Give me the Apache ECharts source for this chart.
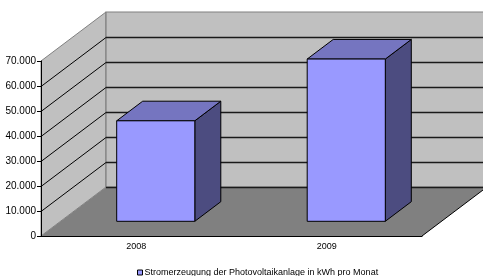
<!DOCTYPE html>
<html>
<head>
<meta charset="utf-8">
<script src="https://cdn.jsdelivr.net/npm/echarts@6/dist/echarts.min.js"></script>
<style>
html, body {margin: 0; padding: 0; background: #fff;}
#chart {width: 483px; height: 276px;}
</style>
</head>
<body>
<div id="chart"></div>
<script>
const years = ['2008', '2009'];
const output = [40200, 64900];
const seriesName = 'Stromerzeugung der Photovoltaikanlage in kWh pro Monat';
const yMax = 70000;
const yStep = 10000;

// oblique depth of the 3d box, and where the bars sit inside it
const depth = [65, -49];
const barDepth = [0.3, 0.7];
const barWidth = 0.41;

const font = '"Liberation Sans", Arial, sans-serif';
const de = v => String(v).replace(/\B(?=(\d{3})+(?!\d))/g, '.');

function shift(p, f)
{
	return [p[0] + depth[0] * f, p[1] + depth[1] * f];
}

function line(a, b, stroke, lineWidth = 1)
{
	return {type: 'line', shape: {x1: a[0], y1: a[1], x2: b[0], y2: b[1]}, style: {stroke, lineWidth}};
}

function walls(params, api)
{
	const cs = params.coordSys;
	const x0 = cs.x, x1 = cs.x + cs.width;
	const yb = api.coord([0, 0])[1];
	const yt = api.coord([0, yMax])[1];
	const children = [
		{type: 'polygon', shape: {points: [[x0, yb], [x1, yb], shift([x1, yb], 1), shift([x0, yb], 1)]},
			style: {fill: '#808080'}},
		{type: 'polygon', shape: {points: [[x0, yb], [x0, yt], shift([x0, yt], 1), shift([x0, yb], 1)]},
			style: {fill: '#c0c0c0', stroke: '#808080', lineWidth: 1}},
		{type: 'polygon', shape: {points: [shift([x0, yt], 1), shift([x1, yt], 1), shift([x1, yb], 1), shift([x0, yb], 1)]},
			style: {fill: '#c0c0c0', stroke: '#808080', lineWidth: 1.2}}
	];
	for (let v = 0; v < yMax; v += yStep)
	{
		const y = Math.round(api.coord([0, v])[1]) + 0.5;
		children.push(line(shift([x0, y], 1), shift([x1, y], 1), '#1a1a1a', 1.3));
		if (v > 0)
			children.push(line([x0, y], shift([x0, y], 1), '#000'));
	}
	children.push(line([x1, yb], shift([x1, yb], 1), '#000'));
	return {type: 'group', children};
}

function bar(params, api)
{
	const i = api.value(0), v = api.value(1);
	const bottom = api.coord([i, 0]), top = api.coord([i, v]);
	const w = api.size([1, 0])[0] * barWidth;
	const d = barDepth[1] - barDepth[0];
	const tl = shift([bottom[0] - w / 2, top[1]], barDepth[0]);
	const tr = shift([bottom[0] + w / 2, top[1]], barDepth[0]);
	const br = shift([bottom[0] + w / 2, bottom[1]], barDepth[0]);
	const bl = shift([bottom[0] - w / 2, bottom[1]], barDepth[0]);
	const edge = {stroke: '#000', lineWidth: 1, lineJoin: 'round'};
	return {type: 'group', children: [
		{type: 'polygon', shape: {points: [tr, br, shift(br, d), shift(tr, d)]}, style: {fill: '#4c4c80', ...edge}},
		{type: 'polygon', shape: {points: [tl, tr, shift(tr, d), shift(tl, d)]}, style: {fill: '#7575c0', ...edge}},
		{type: 'polygon', shape: {points: [tl, tr, br, bl]}, style: {fill: '#9999ff', ...edge}}
	]};
}

const chart = echarts.init(document.getElementById('chart'));
chart.setOption({
	animation: false,
	textStyle: {fontFamily: font},
	grid: {left: 41, top: 61, width: 381, height: 175, containLabel: false},
	legend: {
		data: [seriesName],
		left: 132, top: 263,
		icon: 'rect', itemWidth: 5, itemHeight: 5,
		itemStyle: {borderColor: '#000', borderWidth: 1},
		textStyle: {fontFamily: font, fontSize: 9, color: '#000', padding: [0, 0, 0, -3]}
	},
	xAxis: {
		type: 'category', data: years, z: 10,
		axisLine: {lineStyle: {color: '#000', width: 1}},
		axisTick: {length: 4, lineStyle: {color: '#000'}},
		axisLabel: {fontFamily: font, fontSize: 9, color: '#000', margin: 6}
	},
	yAxis: {
		type: 'value', min: 0, max: yMax, interval: yStep, z: 10,
		axisLine: {show: true, lineStyle: {color: '#000', width: 1}},
		axisTick: {show: true, length: 4, lineStyle: {color: '#000'}},
		axisLabel: {fontFamily: font, fontSize: 10, color: '#000', margin: 5, formatter: de},
		splitLine: {show: false}
	},
	series: [
		{type: 'custom', name: 'walls', silent: true, z: 1, clip: false, renderItem: walls, data: [[0, 0]]},
		{type: 'custom', name: seriesName, z: 5, clip: false, renderItem: bar,
			itemStyle: {color: '#9999ff'},
			encode: {x: 0, y: 1},
			data: years.map((y, i) => [i, output[i]])}
	]
});
</script>
</body>
</html>
